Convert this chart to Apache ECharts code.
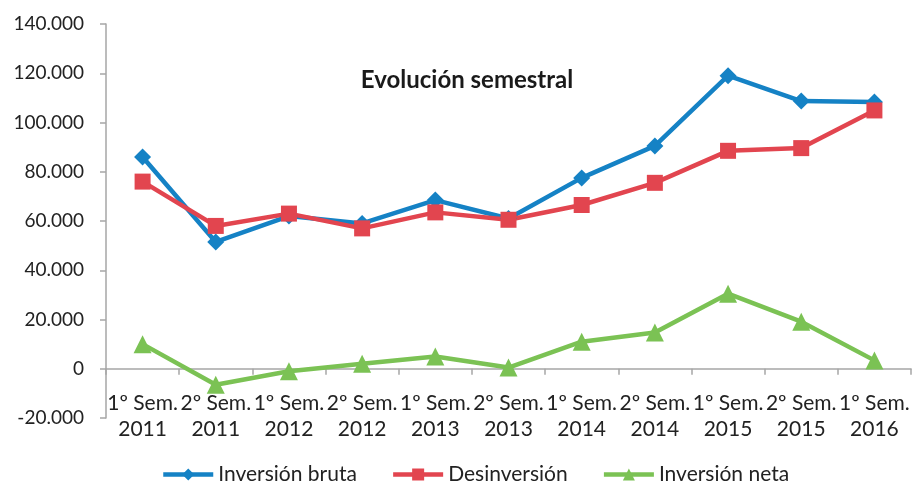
<!DOCTYPE html>
<html><head><meta charset="utf-8">
<script src="https://cdn.jsdelivr.net/npm/echarts@6/dist/echarts.min.js"></script>
<style>html,body{margin:0;padding:0;background:#fff}#c{width:912px;height:484px}</style>
</head><body><div id="c"></div>
<script>
const categories = ['1º Sem.\n2011','2º Sem.\n2011','1º Sem.\n2012','2º Sem.\n2012','1º Sem.\n2013','2º Sem.\n2013','1º Sem.\n2014','2º Sem.\n2014','1º Sem.\n2015','2º Sem.\n2015','1º Sem.\n2016'];
const inversionBruta = [86000, 51500, 62000, 59000, 68500, 61000, 77500, 90500, 119000, 108700, 108300];
const desinversion = [76000, 58000, 63000, 57000, 63500, 60500, 66500, 75500, 88500, 89600, 104900];
const inversionNeta = [10000, -6500, -1000, 2000, 5000, 500, 11000, 14700, 30500, 19100, 3400];
const yMin = -20000, yMax = 140000, yStep = 20000;
const titleText = 'Evolución semestral';

const FONT = 'Lato';
const GRID = {left:106, right:1, top:24, bottom:66};
const plotH = 484 - GRID.top - GRID.bottom;
const zeroOffset = -(0 - yMin) / (yMax - yMin) * plotH;
const fmt = v => {
  if (v === 0) return '0';
  const s = Math.abs(v).toString().replace(/\B(?=(\d{3})+(?!\d))/g, '.');
  return (v < 0 ? '-' : '') + s;
};
const chart = echarts.init(document.getElementById('c'), null, {renderer:'canvas'});
const mk = (name, data, color, symbol, size) => ({
  name, type:'line', data, symbol, symbolSize: size,
  lineStyle:{color, width:4.5}, itemStyle:{color}, animation:false
});
chart.setOption({
  animation:false,
  textStyle:{fontFamily:FONT},
  title:{text:titleText, left:462, top:63, textAlign:'center',
    textStyle:{fontFamily:FONT, fontWeight:'bold', fontSize:24, color:'#1a1a1a'}},
  grid:Object.assign({containLabel:false, outerBoundsMode:'none'}, GRID),
  legend:{top:459, left:156, itemWidth:50, itemHeight:15, itemGap:34,
    lineStyle:{width:4.5},
    textStyle:{fontFamily:FONT, fontSize:21, color:'#222'},
    data:['Inversión bruta','Desinversión','Inversión neta']},
  xAxis:{type:'category', data:categories, boundaryGap:true, position:'bottom', offset:zeroOffset,
    axisLine:{show:true, onZero:false, lineStyle:{color:'#a6a6a6', width:1.5}},
    axisTick:{show:true, length:6, lineStyle:{color:'#a6a6a6', width:1.5}},
    axisLabel:{interval:0, margin:21, fontFamily:FONT, fontSize:21, color:'#222', lineHeight:26}},
  yAxis:{type:'value', min:yMin, max:yMax, interval:yStep,
    splitLine:{show:false},
    axisLine:{show:true, lineStyle:{color:'#a6a6a6', width:1.5}},
    axisTick:{show:true, length:6, lineStyle:{color:'#a6a6a6', width:1.5}},
    axisLabel:{margin:22, fontFamily:FONT, fontSize:19, color:'#222', formatter:fmt}},
  series:[
    mk('Inversión bruta', inversionBruta, '#1582c5', 'diamond', 17),
    mk('Desinversión', desinversion, '#e2454f', 'rect', 16),
    mk('Inversión neta', inversionNeta, '#7bc254', 'triangle', 18)
  ]
});
</script></body></html>
